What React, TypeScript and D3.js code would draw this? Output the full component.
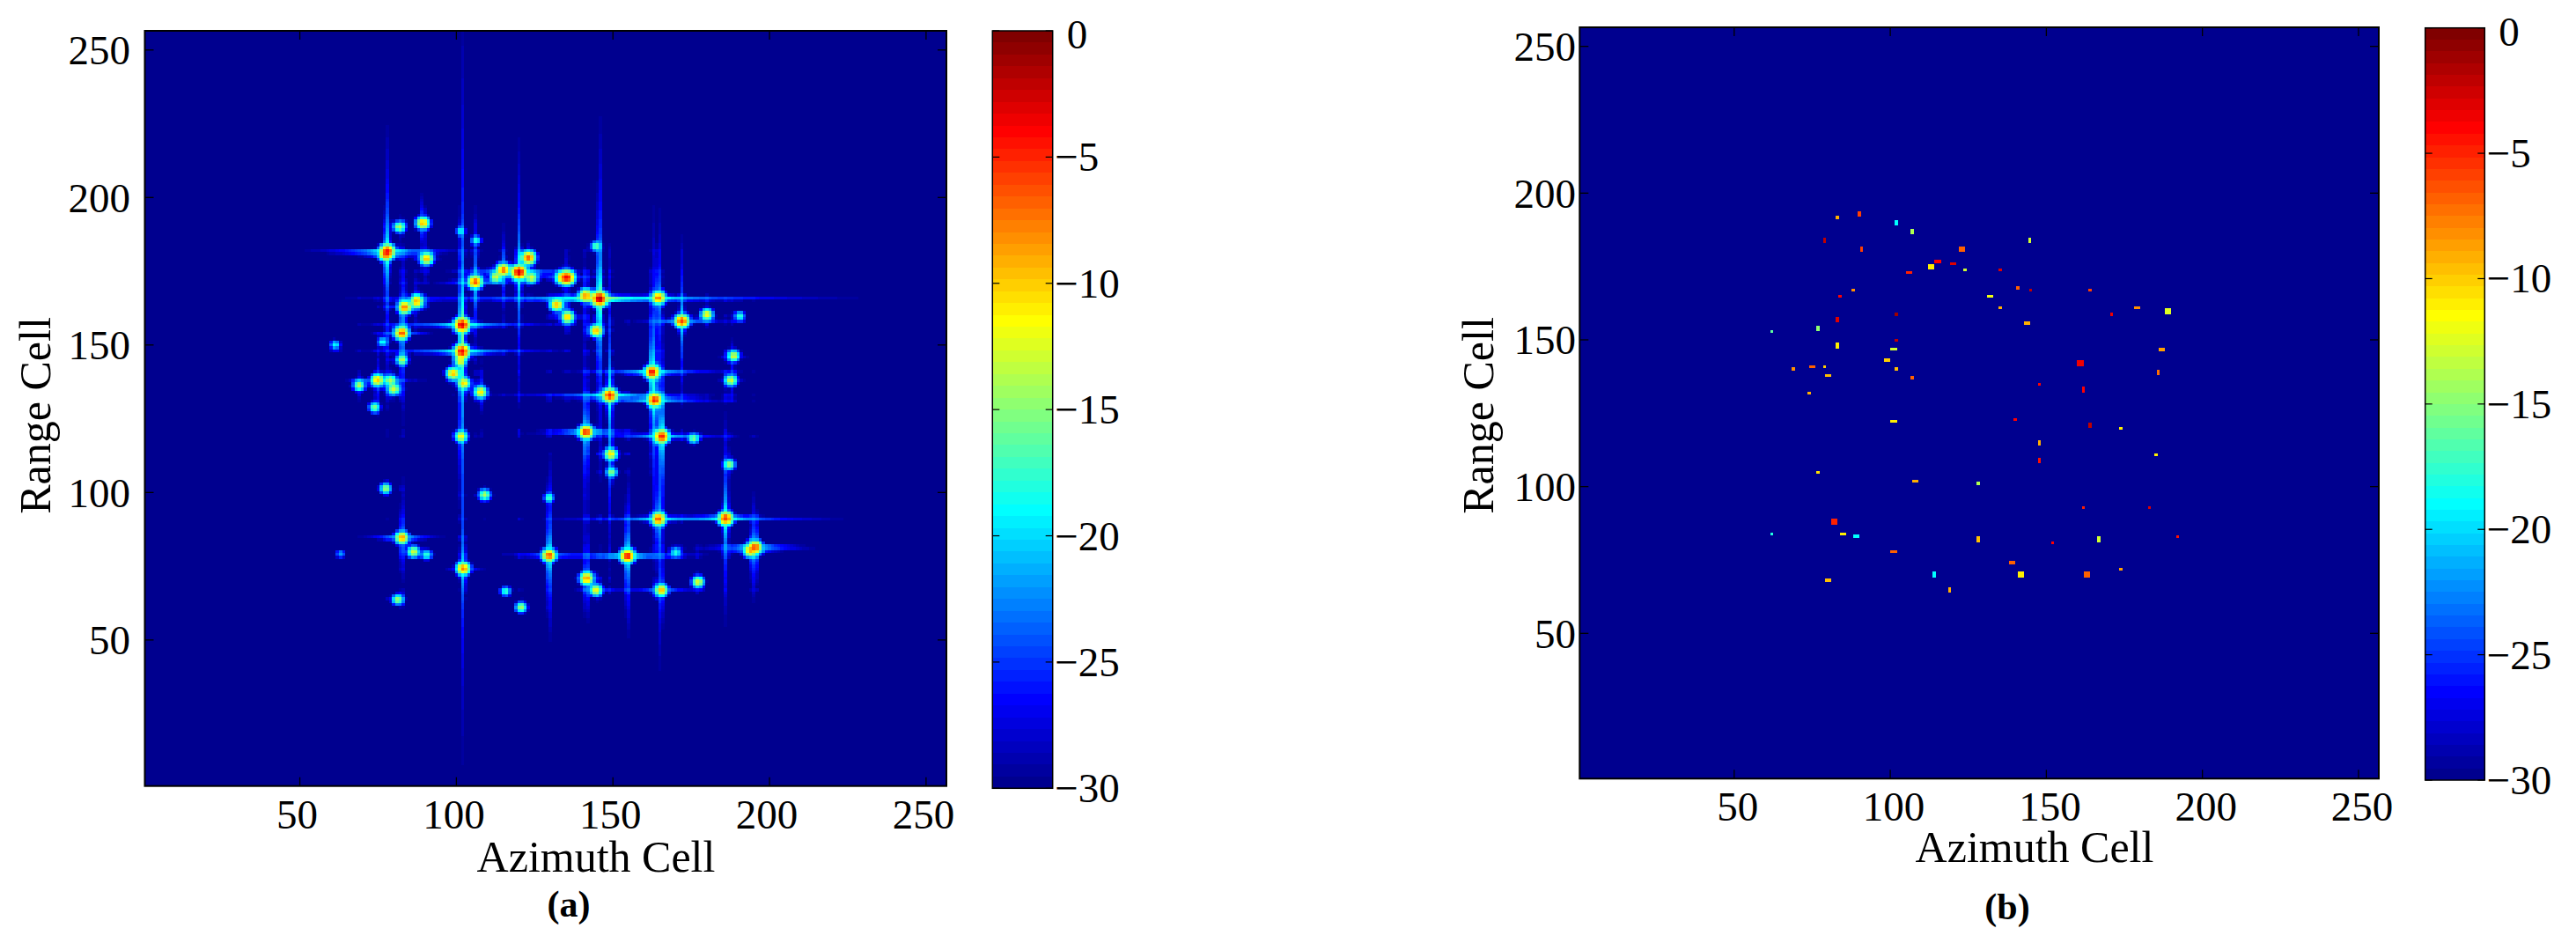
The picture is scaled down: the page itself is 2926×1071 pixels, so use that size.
import React, { useMemo } from "react";
import * as d3 from "d3";

const tickValues = [50, 100, 150, 200, 250];
const colorbarTicks = [0, -5, -10, -15, -20, -25, -30];
const floorDb = -30;
const cellCount = 256;

// panel (a): scatterers (cell centre, peak dB, arm strength dB)
const targetAz = [81.8,89.3,101.3,106.3,144.6,78,77.4,90.5,123,115,120,112.7,106,124,134,135.4,141.3,145.7,164.6,87.4,87.4,83.5,132,135.5,172,180,190.5,101.8,101.8,144.6,82.5,61.3,76.5,188.5,101.2,82.6,162.5,99,102.4,107.7,187.7,74.8,79,69,80,73.8,149,163.3,141.4,101.5,165.6,175.8,149.3,149.6,187.2,77.4,109,129.6,164.6,186,82.6,195.4,193.9,63,86.3,90.5,129.6,154.6,170,102.2,141.6,144.6,165.5,177.2,115.7,120.7,81.3];
const targetRange = [190,191.3,188.5,185.5,183.5,181.8,180.6,179.3,179.6,175.5,174.6,173,171.3,172.8,172.8,172.8,166.8,165.7,166,165.5,164.5,162.8,163.6,159.5,158.1,160.3,159.8,156.8,147.8,154.8,154,150,151,146.3,144.6,145,140.8,140.3,137,134,138,138.1,138,136.3,135,128.8,132.9,131.3,120.5,119,119,118.3,113,106.9,109.5,101.4,99.2,98.2,91,91.2,84.7,81.5,80.2,79.2,79.9,78.9,78.7,78.5,79.7,74.2,70.9,66.9,66.9,69.7,66.5,61.1,63.7];
const targetPeak = [-14,-10,-20,-19,-17,-5,-9,-10,-7,-8,-3,-13,-7,-13,-9,-5,-9,-2,-8,-14,-11,-8,-10,-10,-6,-12,-18,-3,-4,-10,-7,-19,-19,-13,-13,-14,-5,-10,-11,-11,-13,-10,-14,-14,-13,-16,-5,-5,-6,-12,-5,-16,-11,-16,-15,-15,-14,-18,-7,-6,-9,-7,-10,-22,-13,-18,-7,-5,-18,-8,-9,-12,-10,-13,-18,-15,-15];
const targetArmH = [0,-2,-3,-3,-3,3,3,0,-6,0,0,0,2,-4,-2,-4,0,5,4,2,0,0,-3,2,1,0,1,2,3,-2,0,-4,-4,3,0,0,3,-3,-3,-1,2,2,2,3,1,0,4,3,3,-2,2,2,0,2,3,2,2,1,4,4,4,4,3,-2,0,-3,0,3,1,-1,-2,2,3,0,-1,1,3];
const targetArmV = [1,3,0,3,3,3,2,0,-3,2,2,0,3,-2,-2,-4,0,3,3,2,0,1,-4,0,3,1,3,3,3,0,2,-4,-2,3,0,2,4,-3,-3,3,3,2,2,3,0,2,4,3,3,3,4,2,3,3,3,2,2,5,3,4,3,3,2,0,1,-2,5,3,0,4,3,0,2,2,0,3,2];

// panel (b): focused spots (cell centre, size in cells, dB)
const spotAz = [83.1,90.1,102,107,144.7,78.9,90.8,122.9,115.2,120.1,113,106,124,135.2,140.8,144.9,164,88.1,83.9,132,135.2,143.9,170.9,179,102,83.1,76.8,62,83.1,102,101.1,99,102,107,69,75,79,80,74,160.9,147.8,161.9,140,101.1,164,173.9,147.8,147.8,76.8,108,128.1,161.9,82.1,84.8,89.1,62,128.1,152,166.8,173.9,101.1,139,141.9,163,114,119,80,189,186.9,185.8,185.1,183,192.1];
const spotRange = [191.7,192.9,189.9,186.9,183.9,183.9,180.9,180.9,176.7,176,174.9,173,173.8,173.8,167.7,167,167,167,164.8,164.8,161,155.7,158.7,161,158.7,156.9,153.9,152.8,148,149.8,146.8,143.1,140.1,137.1,140.1,140.8,140.8,137.8,131.8,142,134.8,133,122.9,122.2,120.9,119.8,114.9,108.9,104.9,101.9,101.1,92.9,88,83.9,83.1,83.9,82,80.9,82,71.9,77.9,74.1,70,70,70,64.8,68.1,159.8,146.7,138.9,110.8,92.9,83];
const spotDb = [-9,-6,-19,-14,-13,-2,-6,-7,-4,-3,-11,-5,-13,-3,-7,-2,-6,-8,-4,-12,-9,-9,-3.5,-8,-1,-3,-15,-16,-11,-2,-13,-10,-9.5,-7,-8,-7,-10,-9.5,-9,-3.5,-4,-4,-4,-11,-2,-11,-9,-4.5,-10.5,-9,-14,-5,-5,-11,-19,-18,-9.5,-4,-13,-8.5,-7,-7,-11,-7,-19,-9,-9.5,-12.5,-8.5,-7.5,-11,-3,-4.5];
const spotW = [1,1,1,1,1,1,1,2,2,2,2,2,1,1,1,1,1,1,1,2,1,2,1,2,1,1,1,1,1,1,2,2,1,1,1,2,1,2,1,2,1,1,1,2,1,1,1,1,1,2,1,1,2,2,2,1,1,1,1,1,2,2,2,2,1,1,2,2,2,1,1,1,1];
const spotH = [1,2,2,2,2,2,2,2,1,1,2,1,1,1,1,1,1,1,1,1,1,1,1,1,1,2,2,1,2,1,1,1,1,1,1,1,1,1,1,2,1,2,1,1,2,1,2,2,1,1,1,1,2,1,1,1,2,1,2,1,1,1,2,2,2,2,1,2,1,2,1,1,1];

// MATLAB jet(64)
const jet = d3.range(1, 65).map((i) => {
  const v = i / 64;
  const c = (x: number) => Math.round(255 * Math.max(0, Math.min(1, x)));
  return d3.rgb(c(Math.min(4 * v - 1.5, -4 * v + 4.5)), c(Math.min(4 * v - 0.5, -4 * v + 3.5)), c(Math.min(4 * v + 0.5, -4 * v + 2.5))).formatRgb();
});
const levelOf = d3.scaleQuantize<number>().domain([floorDb, 0]).range(d3.range(64));
const colorOf = (db: number) => jet[levelOf(Math.max(floorDb, Math.min(0, db)))];

function buildField(): Float32Array {
  const out = new Float32Array(cellCount * cellCount);
  targetAz.forEach((az, t) => {
    const r0 = targetRange[t], p = targetPeak[t], ah = targetArmH[t], av = targetArmV[t];
    for (let j = 0; j < cellCount; j++) {
      const dy = j + 1 - r0, ady = Math.abs(dy);
      for (let i = 0; i < cellCount; i++) {
        const dx = i + 1 - az, adx = Math.abs(dx);
        const r = Math.hypot(dx, dy);
        let rel = -6 * Math.pow(Math.max(0, r - 0.5), 1.2);
        if (ady < 3) rel = Math.max(rel, ah - 10 - 12 * Math.log10(1 + adx) - 7 * ady * ady);
        if (adx < 3) rel = Math.max(rel, av - 11 - 10.5 * Math.log10(1 + ady) - 7 * adx * adx);
        const db = p + rel;
        if (db > -45) out[j * cellCount + i] += Math.pow(10, db / 10);
      }
    }
  });
  return out.map((v) => (v > 0 ? 10 * Math.log10(v) : -99));
}

type Geo = {
  left: number; right: number; top: number; bottom: number;
  cbLeft: number; cbRight: number; cbTop: number; cbBottom: number;
  xLabelDx: number; xTickBase: number; yLabelRight: number;
  azX: number; azBase: number; rangeX: number; rangeY: number; capX: number; capBase: number; cap: string;
};

const font = "'Liberation Serif', serif";

function Panel({ g, children }: { g: Geo; children: (x: any, y: any) => React.ReactNode }) {
  const x = d3.scaleLinear().domain([0.5, 256.5]).range([g.left, g.right]);
  const y = d3.scaleLinear().domain([0.5, 256.5]).range([g.bottom, g.top]);
  const cb = d3.scaleLinear().domain([floorDb, 0]).range([g.cbBottom, g.cbTop]);
  return (
    <g fontFamily={font} fill="#000">
      <rect x={g.left} y={g.top} width={g.right - g.left} height={g.bottom - g.top} fill={jet[0]} />
      <g shapeRendering="crispEdges">{children(x, y)}</g>
      <rect x={g.left} y={g.top} width={g.right - g.left} height={g.bottom - g.top} fill="none" stroke="#000" strokeWidth={2} />
      {tickValues.map((t) => (
        <g key={t} stroke="#000" strokeWidth={1.3}>
          <line x1={x(t)} x2={x(t)} y1={g.bottom} y2={g.bottom - 10} />
          <line x1={x(t)} x2={x(t)} y1={g.top} y2={g.top + 10} />
          <line y1={y(t)} y2={y(t)} x1={g.left} x2={g.left + 10} />
          <line y1={y(t)} y2={y(t)} x1={g.right} x2={g.right - 10} />
        </g>
      ))}
      {tickValues.map((t) => (
        <text key={t} x={x(t) + g.xLabelDx} y={g.xTickBase} fontSize={47} textAnchor="middle">{t}</text>
      ))}
      {tickValues.map((t) => (
        <text key={t} x={g.yLabelRight} y={y(t) + 16.5} fontSize={47} textAnchor="end">{t}</text>
      ))}
      <text x={g.azX} y={g.azBase} fontSize={50} textAnchor="middle">Azimuth Cell</text>
      <text transform={`translate(${g.rangeX},${g.rangeY}) rotate(-90)`} fontSize={50} textAnchor="middle">Range Cell</text>
      <text x={g.capX} y={g.capBase} fontSize={42} fontWeight="bold" textAnchor="middle">{g.cap}</text>
      <g shapeRendering="crispEdges">
        {jet.map((c, i) => {
          const y0 = cb(floorDb + ((i + 1) * 30) / 64), y1 = cb(floorDb + (i * 30) / 64);
          return <rect key={i} x={g.cbLeft} y={y0} width={g.cbRight - g.cbLeft} height={y1 - y0} fill={c} />;
        })}
      </g>
      <rect x={g.cbLeft} y={g.cbTop} width={g.cbRight - g.cbLeft} height={g.cbBottom - g.cbTop} fill="none" stroke="#000" strokeWidth={1.5} />
      {colorbarTicks.map((t) => (
        <g key={t} stroke="#000" strokeWidth={1.2}>
          <line x1={g.cbLeft} x2={g.cbLeft + 8} y1={cb(t)} y2={cb(t)} />
          <line x1={g.cbRight} x2={g.cbRight - 8} y1={cb(t)} y2={cb(t)} />
        </g>
      ))}
      {colorbarTicks.map((t) => (
        <text key={t} x={g.cbRight + (t === 0 ? 16 : 2.5)} y={cb(t) + (t === 0 ? 20 : 16)} fontSize={47}>
          {t === 0 ? "0" : `\u2212${-t}`}
        </text>
      ))}
    </g>
  );
}

const geoA: Geo = { left: 164.5, right: 1075, top: 35, bottom: 892.7, cbLeft: 1127.3, cbRight: 1195.7, cbTop: 35, cbBottom: 895.3, xLabelDx: -3, xTickBase: 941, yLabelRight: 148, azX: 677, azBase: 989.5, rangeX: 57, rangeY: 472, capX: 646, capBase: 1041, cap: "(a)" };
const geoB: Geo = { left: 1794.3, right: 2702, top: 31, bottom: 884.3, cbLeft: 2754.7, cbRight: 2822.3, cbTop: 31.7, cbBottom: 886, xLabelDx: 4, xTickBase: 931.7, yLabelRight: 1790, azX: 2311, azBase: 979, rangeX: 1696, rangeY: 472, capX: 2280, capBase: 1044, cap: "(b)" };

export default function App() {
  const runs = useMemo(() => {
    const field = buildField();
    const res: { i: number; j: number; n: number; c: string }[] = [];
    for (let j = 0; j < cellCount; j++) {
      let i = 0;
      while (i < cellCount) {
        const c = colorOf(field[j * cellCount + i]);
        let n = 1;
        while (i + n < cellCount && colorOf(field[j * cellCount + i + n]) === c) n++;
        if (c !== jet[0]) res.push({ i, j, n, c });
        i += n;
      }
    }
    return res;
  }, []);
  return (
    <svg width={2926} height={1071} style={{ position: "absolute", left: 0, top: 0, background: "#fff" }}>
      <Panel g={geoA}>
        {(x, y) => runs.map((r, k) => (
          <rect key={k} x={x(r.i + 0.5)} y={y(r.j + 1.5)} width={x(r.i + r.n + 0.5) - x(r.i + 0.5)} height={y(r.j + 0.5) - y(r.j + 1.5)} fill={r.c} />
        ))}
      </Panel>
      <Panel g={geoB}>
        {(x, y) => spotAz.map((az, k) => (
          <rect key={k} x={x(az - spotW[k] / 2)} y={y(spotRange[k] + spotH[k] / 2)} width={x(az + spotW[k] / 2) - x(az - spotW[k] / 2)} height={y(spotRange[k] - spotH[k] / 2) - y(spotRange[k] + spotH[k] / 2)} fill={colorOf(spotDb[k])} />
        ))}
      </Panel>
    </svg>
  );
}
